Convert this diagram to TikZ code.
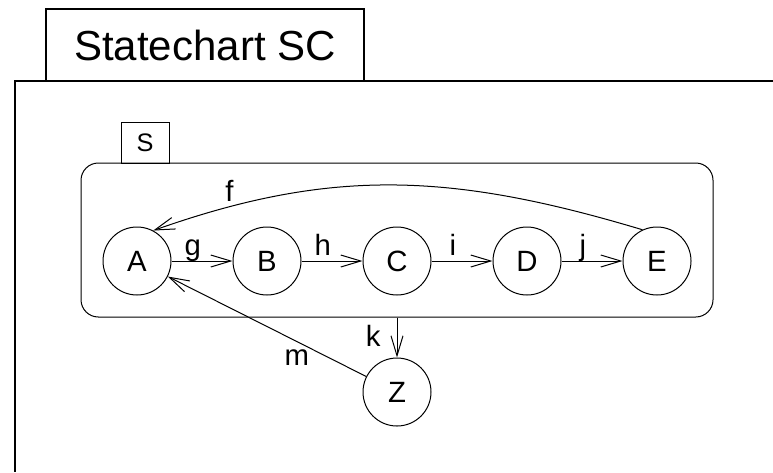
\documentclass[tikz,border=0pt]{standalone}
\usepackage{fontspec}
\setmainfont{Liberation Sans}
\usetikzlibrary{arrows.meta}

\begin{document}
\begin{tikzpicture}[x=0.75pt, y=-0.75pt, line width=0.75pt,
    >={Straight Barb[length=15pt,width=9pt]},
    state/.style={draw, circle, minimum size=51pt, inner sep=0pt, font=\fontsize{22}{26}\selectfont},
    lbl/.style={font=\fontsize{22}{26}\selectfont, inner sep=1pt, text depth=.25em}]
    \useasboundingbox (0,0) rectangle (773,472);

    % Frame
    \node[draw, line width=1.1pt, minimum width=238.5pt, minimum height=54pt, inner sep=0pt,
          font=\fontsize{31.5}{36}\selectfont] (title) at (205,45) {Statechart SC};
    \draw[line width=1.1pt] (773,81) -- (15,81) -- (15,472);

    % Superstate S
    \node[draw, rounded corners=13pt, minimum width=474pt, minimum height=115.5pt] (S) at (397,240) {};
    \node[draw, minimum width=36pt, minimum height=30.75pt, inner sep=0pt,
          font=\fontsize{19}{22}\selectfont] (Stab) at (145,142.5) {S};

    % States
    \node[state] (A) at (137,261) {A};
    \node[state] (B) at (267,261) {B};
    \node[state] (C) at (397,261) {C};
    \node[state] (D) at (527,261) {D};
    \node[state] (E) at (657,261) {E};
    \node[state] (Z) at (397,392) {Z};

    % Transitions
    \draw[->] (A) -- node[lbl, above, pos=.35] {g} (B);
    \draw[->] (B) -- node[lbl, above, pos=.35] {h} (C);
    \draw[->] (C) -- node[lbl, above, pos=.35] {i} (D);
    \draw[->] (D) -- node[lbl, above, pos=.35] {j} (E);
    \draw[->] (E.115) .. controls (450,172) and (330,168) .. node[lbl, above, pos=.85] {f} (A.62);
    \draw[->] (S.south) -- node[lbl, left=11pt] {k} (Z);
    \draw[->] (Z) -- node[lbl, below=5pt, pos=.35] {m} (A);
\end{tikzpicture}
\end{document}
